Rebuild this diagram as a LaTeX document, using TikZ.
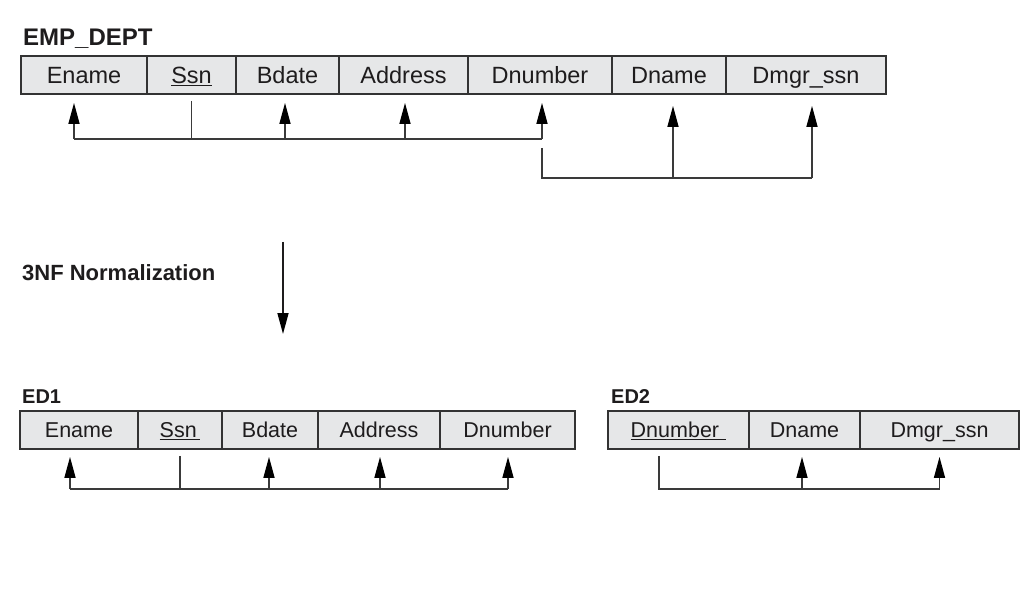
\documentclass[tikz,border=0pt]{standalone}
\usepackage{fontspec}
\setmainfont{Liberation Sans}
\usetikzlibrary{arrows.meta,calc}
\definecolor{cellfill}{HTML}{E6E7E8}
\definecolor{ink}{HTML}{1E1C1D}
\definecolor{edge}{HTML}{333333}
\definecolor{fdcol}{HTML}{3A3A3A}
\tikzset{
  cell/.style={draw=edge, line width=1.8pt, fill=cellfill, minimum height=38pt,
    inner sep=0pt, text=ink, text depth=0pt},
  bigcell/.style={cell, font=\fontsize{23.5}{28}\selectfont, text height=16.8pt},
  smallcell/.style={cell, font=\fontsize{21.5}{26}\selectfont, text height=15.4pt},
  title/.style={anchor=base west, inner sep=0pt, text=ink, font=\bfseries\fontsize{24}{28}\selectfont},
  subtitle/.style={anchor=base west, inner sep=0pt, text=ink, font=\bfseries\fontsize{20}{24}\selectfont},
  fdline/.style={draw=fdcol, line width=1.5pt},
  fdarrow/.style={fdline, -{Triangle[length=21pt,width=11pt,color=black]}},
}
\newcommand{\keyul}[1]{\underline{#1}}
\begin{document}
\begin{tikzpicture}[x=1pt,y=-1pt]
\useasboundingbox (0,0) rectangle (1034,604);

% ---------- EMP_DEPT ----------
\node[title] (t0) at (23,46) {EMP\_DEPT};
\node[bigcell, minimum width=126pt] (a1) at (84,75) {Ename};
\node[bigcell, minimum width=89pt]  (a2) at (191.5,75) {\keyul{Ssn}};
\node[bigcell, minimum width=103pt] (a3) at (287.5,75) {Bdate};
\node[bigcell, minimum width=129pt] (a4) at (403.5,75) {Address};
\node[bigcell, minimum width=144pt] (a5) at (540,75) {Dnumber};
\node[bigcell, minimum width=114pt] (a6) at (669,75) {Dname};
\node[bigcell, minimum width=160pt] (a7) at (806,75) {Dmgr\_ssn};

% FD 1 : Ssn -> Ename, Bdate, Address, Dnumber
\coordinate (h1) at (0,139);
\draw[fdline] ([yshift=-6pt]a2.south) -- (a2.south |- h1);
\draw[fdline] ([xshift=-10pt]a1.south |- h1) -- ([xshift=2pt]a5.south |- h1);
\draw[fdarrow] ([xshift=-10pt]a1.south |- h1) -- ([xshift=-10pt,yshift=-8pt]a1.south);
\draw[fdarrow] ([xshift=-2.5pt]a3.south |- h1) -- ([xshift=-2.5pt,yshift=-8pt]a3.south);
\draw[fdarrow] ([xshift=1.5pt]a4.south |- h1) -- ([xshift=1.5pt,yshift=-8pt]a4.south);
\draw[fdarrow] ([xshift=2pt]a5.south |- h1) -- ([xshift=2pt,yshift=-8pt]a5.south);

% FD 2 : Dnumber -> Dname, Dmgr_ssn
\coordinate (h2) at (0,178);
\draw[fdline] ([xshift=2pt,yshift=-53pt]a5.south) -- ([xshift=2pt]a5.south |- h2) -- ([xshift=6pt]a7.south |- h2);
\draw[fdarrow] ([xshift=4pt]a6.south |- h2) -- ([xshift=4pt,yshift=-11pt]a6.south);
\draw[fdarrow] ([xshift=6pt]a7.south |- h2) -- ([xshift=6pt,yshift=-11pt]a7.south);

% ---------- Normalization ----------
\node[anchor=base west, inner sep=0pt, text=ink, font=\bfseries\fontsize{22}{26}\selectfont] (nf) at (22,280) {3NF Normalization};
\coordinate (ns) at (283,242);
\coordinate (ne) at (283,334);
\draw[draw=ink, line width=1.5pt, -{Triangle[length=21pt,width=11pt,color=black]}] (ns) -- (ne);

% ---------- ED1 ----------
\node[subtitle] (t1) at (22,403) {ED1};
\node[smallcell, minimum width=118pt] (b1) at (79,430) {Ename};
\node[smallcell, minimum width=84pt]  (b2) at (180,430) {\keyul{Ssn\,}};
\node[smallcell, minimum width=96pt]  (b3) at (270,430) {Bdate};
\node[smallcell, minimum width=122pt] (b4) at (379,430) {Address};
\node[smallcell, minimum width=135pt] (b5) at (507.5,430) {Dnumber};

\coordinate (h3) at (0,489);
\draw[fdline] ([yshift=-6pt]b2.south) -- (b2.south |- h3);
\draw[fdline] ([xshift=-9pt]b1.south |- h3) -- ([xshift=0.5pt]b5.south |- h3);
\draw[fdarrow] ([xshift=-9pt]b1.south |- h3) -- ([xshift=-9pt,yshift=-7pt]b1.south);
\draw[fdarrow] ([xshift=-1pt]b3.south |- h3) -- ([xshift=-1pt,yshift=-7pt]b3.south);
\draw[fdarrow] ([xshift=1pt]b4.south |- h3) -- ([xshift=1pt,yshift=-7pt]b4.south);
\draw[fdarrow] ([xshift=0.5pt]b5.south |- h3) -- ([xshift=0.5pt,yshift=-7pt]b5.south);

% ---------- ED2 ----------
\node[subtitle] (t2) at (611,403) {ED2};
\node[smallcell, minimum width=141pt] (c1) at (678.5,430) {\keyul{Dnumber\,\,}};
\node[smallcell, minimum width=111pt] (c2) at (804.5,430) {Dname};
\node[smallcell, minimum width=159pt] (c3) at (939.5,430) {Dmgr\_ssn};

\draw[fdline] ([xshift=-19.5pt,yshift=-6pt]c1.south) -- ([xshift=-19.5pt]c1.south |- h3) -- (c3.south |- h3);
\draw[fdarrow] ([xshift=-2.5pt]c2.south |- h3) -- ([xshift=-2.5pt,yshift=-7pt]c2.south);
\draw[fdarrow] (c3.south |- h3) -- ([yshift=-7pt]c3.south);
\end{tikzpicture}
\end{document}
